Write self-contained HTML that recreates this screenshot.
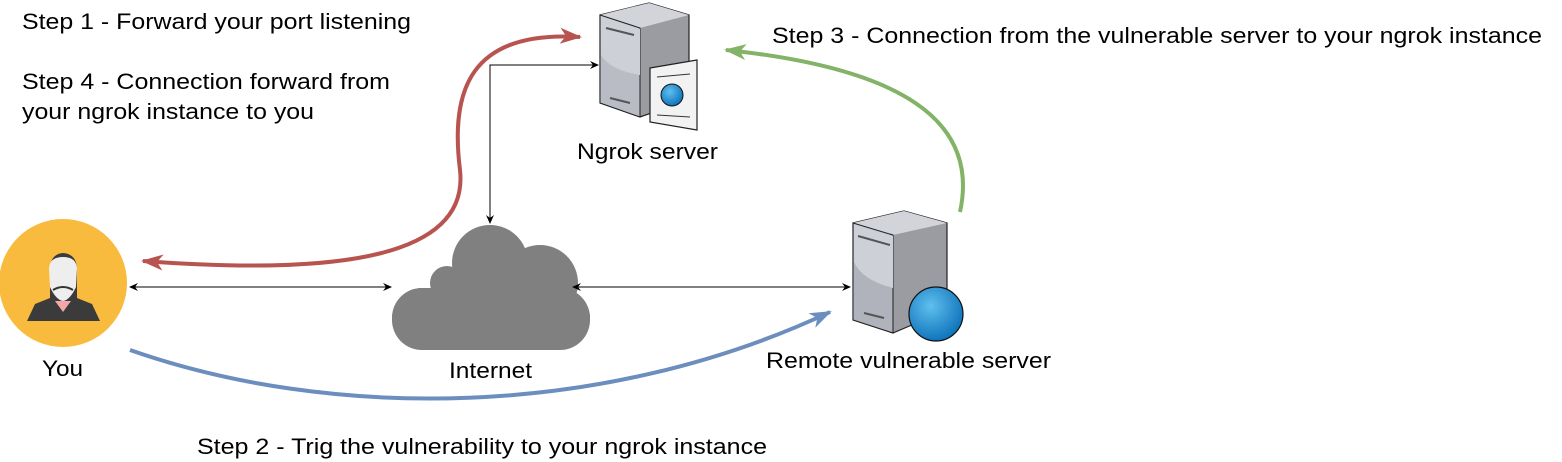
<!DOCTYPE html>
<html><head><meta charset="utf-8"><style>
html,body{margin:0;padding:0;background:#fff;}
svg{display:block;font-family:"Liberation Sans",Arial,sans-serif;}
</style></head><body>
<svg width="1562" height="462" viewBox="0 0 1562 462" xmlns="http://www.w3.org/2000/svg">
<defs>
<marker id="ab" markerWidth="10" markerHeight="10" refX="8" refY="5" orient="auto-start-reverse" markerUnits="userSpaceOnUse"><path d="M0,1 L9,5 L0,9 L3,5 Z" fill="#000"/></marker>
<marker id="ar" markerWidth="24" markerHeight="20" refX="20" refY="10" orient="auto-start-reverse" markerUnits="userSpaceOnUse"><path d="M0,2 L22,10 L0,18 L6,10 Z" fill="#b85450"/></marker>
<marker id="ag" markerWidth="24" markerHeight="20" refX="20" refY="10" orient="auto" markerUnits="userSpaceOnUse"><path d="M0,2 L22,10 L0,18 L6,10 Z" fill="#82b366"/></marker>
<marker id="abl" markerWidth="24" markerHeight="20" refX="20" refY="10" orient="auto" markerUnits="userSpaceOnUse"><path d="M0,2 L22,10 L0,18 L6,10 Z" fill="#6c8ebf"/></marker>
<radialGradient id="gl" cx="0.4" cy="0.35" r="0.7"><stop offset="0" stop-color="#5fbfee"/><stop offset="1" stop-color="#0a6fb8"/></radialGradient>
</defs>

<!-- Cloud -->
<g fill="#808080">
<circle cx="490" cy="263" r="38"/>
<circle cx="540" cy="283" r="38"/>
<circle cx="447" cy="283" r="17"/>
<circle cx="563" cy="318" r="27"/>
<circle cx="422" cy="318" r="30"/>
<rect x="392" y="288" width="198" height="62" rx="30"/>
<rect x="440" y="270" width="110" height="40"/>
</g>
<text x="449" y="378" font-size="22" textLength="83" lengthAdjust="spacingAndGlyphs">Internet</text>

<!-- black connectors -->
<line x1="130" y1="287" x2="391" y2="287" stroke="#000" stroke-width="1" marker-start="url(#ab)" marker-end="url(#ab)"/>
<line x1="573" y1="287" x2="850" y2="287" stroke="#000" stroke-width="1" marker-start="url(#ab)" marker-end="url(#ab)"/>
<path d="M490 223 L490 65 L598 65" fill="none" stroke="#000" stroke-width="1" marker-start="url(#ab)" marker-end="url(#ab)"/>

<!-- You -->
<circle cx="63" cy="283" r="64" fill="#f8bb3e"/>
<path d="M27 321 L35 304 Q45 300 50 298 L50 270 Q50 254 63 253 Q77 254 77 270 L77 298 Q82 300 92 304 L100 321 Z" fill="#3b3b3b"/>
<path d="M49 268 Q50 257 63 257 Q76 257 77 268 L76 287 Q70 300 63 301 Q56 300 50 287 Z" fill="#eeeeee"/>
<path d="M55 301 L63 312 L71 301 Z" fill="#f0a8a8"/>
<path d="M53 290 Q63 284 73 290" stroke="#333" stroke-width="2" fill="none"/>
<text x="42" y="376" font-size="22" textLength="41" lengthAdjust="spacingAndGlyphs">You</text>

<!-- Ngrok server -->
<path d="M600 15 L649 3 L689 15 L689 100 L640 117 L600 103 Z" fill="#9a9ca2" stroke="#222" stroke-width="1.2"/>
<path d="M600 15 L649 3 L689 15 L640 28 Z" fill="#d2d4d9"/>
<path d="M600 15 L640 28 L640 117 L600 103 Z" fill="#b9bcc4" stroke="#222" stroke-width="1"/>
<path d="M601 16 L640 29 L640 75 Q610 70 601 55 Z" fill="#cdd0d7"/>
<line x1="606" y1="28" x2="634" y2="35" stroke="#555" stroke-width="2"/>
<line x1="610" y1="98" x2="630" y2="103" stroke="#555" stroke-width="2"/>
<path d="M650 68 L697 60 L697 130 L650 122 Z" fill="#f2f2f2" stroke="#222" stroke-width="1.2"/>
<circle cx="672" cy="95" r="11" fill="url(#gl)" stroke="#111" stroke-width="1"/>
<line x1="657" y1="77" x2="690" y2="74" stroke="#333"/>
<line x1="657" y1="115" x2="690" y2="117" stroke="#333"/>
<text x="577" y="159" font-size="22" textLength="141" lengthAdjust="spacingAndGlyphs">Ngrok server</text>

<!-- Remote server -->
<path d="M853 223 L904 211 L947 223 L947 310 L893 333 L853 320 Z" fill="#9a9ca2" stroke="#222" stroke-width="1.2"/>
<path d="M853 223 L904 211 L947 223 L893 235 Z" fill="#d2d4d9"/>
<path d="M853 223 L893 235 L893 333 L853 320 Z" fill="#b0b3bb" stroke="#222" stroke-width="1"/>
<path d="M854 224 L893 236 L893 288 Q862 280 854 262 Z" fill="#cdd0d7"/>
<line x1="858" y1="236" x2="890" y2="245" stroke="#555" stroke-width="2"/>
<line x1="864" y1="313" x2="884" y2="318" stroke="#555" stroke-width="2"/>
<circle cx="936" cy="314" r="27" fill="url(#gl)" stroke="#111" stroke-width="1.2"/>
<text x="766" y="368" font-size="22" textLength="285" lengthAdjust="spacingAndGlyphs">Remote vulnerable server</text>

<!-- colored curves -->
<path d="M580 37 C470 30 450 90 460 170 C470 260 330 275 143 261" fill="none" stroke="#b85450" stroke-width="4" marker-start="url(#ar)" marker-end="url(#ar)"/>
<path d="M960 212 C980 120 900 68 726 50" fill="none" stroke="#82b366" stroke-width="4" marker-end="url(#ag)"/>
<path d="M130 350 C330 420 600 420 830 312" fill="none" stroke="#6c8ebf" stroke-width="4" marker-end="url(#abl)"/>

<!-- labels -->
<g font-size="22" fill="#000">
<text x="22" y="29" textLength="389" lengthAdjust="spacingAndGlyphs">Step 1 - Forward your port listening</text>
<text x="22" y="89" textLength="368" lengthAdjust="spacingAndGlyphs">Step 4 - Connection forward from</text>
<text x="22" y="119" textLength="292" lengthAdjust="spacingAndGlyphs">your ngrok instance to you</text>
<text x="772" y="43" textLength="770" lengthAdjust="spacingAndGlyphs">Step 3 - Connection from the vulnerable server to your ngrok instance</text>
<text x="197" y="454" textLength="570" lengthAdjust="spacingAndGlyphs">Step 2 - Trig the vulnerability to your ngrok instance</text>
</g>
</svg>
</body></html>
